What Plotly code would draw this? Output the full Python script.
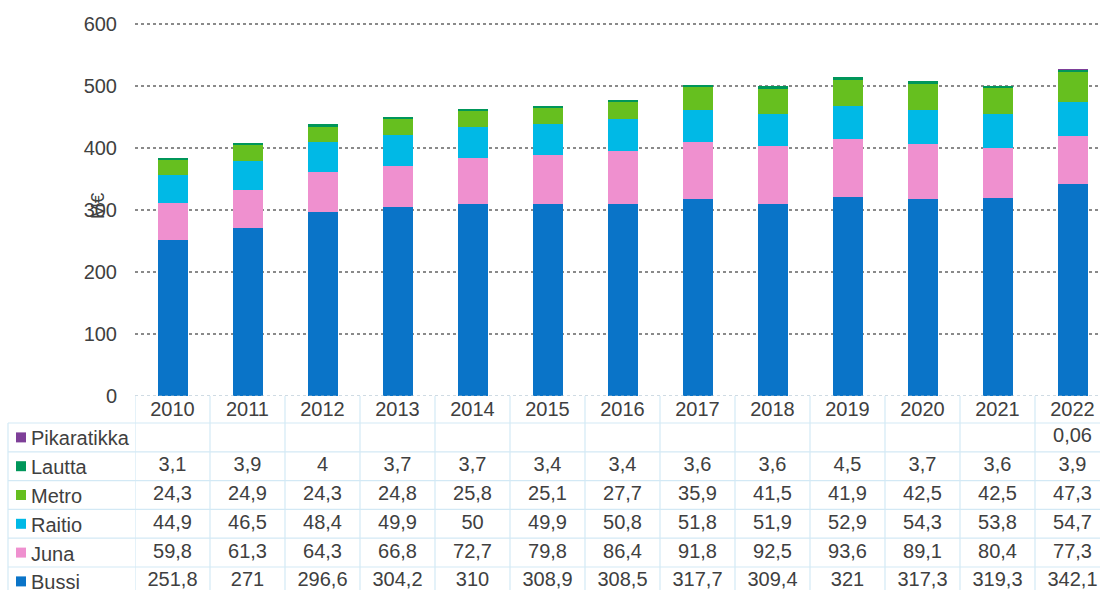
import plotly.graph_objects as go

years = ["2010", "2011", "2012", "2013", "2014", "2015", "2016", "2017", "2018", "2019", "2020", "2021", "2022"]
bussi = [251.8, 271, 296.6, 304.2, 310, 308.9, 308.5, 317.7, 309.4, 321, 317.3, 319.3, 342.1]
juna = [59.8, 61.3, 64.3, 66.8, 72.7, 79.8, 86.4, 91.8, 92.5, 93.6, 89.1, 80.4, 77.3]
raitio = [44.9, 46.5, 48.4, 49.9, 50, 49.9, 50.8, 51.8, 51.9, 52.9, 54.3, 53.8, 54.7]
metro = [24.3, 24.9, 24.3, 24.8, 25.8, 25.1, 27.7, 35.9, 41.5, 41.9, 42.5, 42.5, 47.3]
lautta = [3.1, 3.9, 4, 3.7, 3.7, 3.4, 3.4, 3.6, 3.6, 4.5, 3.7, 3.6, 3.9]
pikaratikka = [None] * 12 + [0.06]

series = [
    ("Bussi", bussi, "#0a74c8"),
    ("Juna", juna, "#ef90cf"),
    ("Raitio", raitio, "#00b9e6"),
    ("Metro", metro, "#66bf1f"),
    ("Lautta", lautta, "#00965a"),
    ("Pikaratikka", pikaratikka, "#7e3f98"),
]
table_order = ["Pikaratikka", "Lautta", "Metro", "Raitio", "Juna", "Bussi"]

FONT = "Liberation Sans, Arial, sans-serif"
TXT = "#404040"
GRIDC = "#d3e9f5"

W, H = 1100, 590
ML, MT = 135, 15
PW, PH = W - ML, H - MT
Y0PX = 396
Y600PX = 23.5
ppu = (Y0PX - Y600PX) / 600.0
ytop = (Y0PX - MT) / ppu
table_h = H - Y0PX
dom_split = table_h / PH
colw = 75.0
xmax = -0.5 + PW / colw

HEAD = 27.0
ROWH = 28.8

fig = go.Figure()
x_idx = list(range(len(years)))
for name, vals, col in series:
    fig.add_trace(go.Bar(
        x=x_idx, y=[v if v is not None else 0 for v in vals], name=name,
        marker=dict(color=col, line=dict(width=0)), width=0.4,
        xaxis="x", yaxis="y", showlegend=False, hoverinfo="skip"))

tx, ty, tt = [], [], []
for i, y in enumerate(years):
    tx.append(i); ty.append(HEAD / 2 + 1); tt.append(y)
lookup = {n: v for n, v, c in series}
for r, name in enumerate(table_order):
    yc = HEAD + ROWH * (r + 0.5)
    for i, v in enumerate(lookup[name]):
        if v is None:
            continue
        tx.append(i); ty.append(yc); tt.append(f"{v:g}".replace(".", ","))
fig.add_trace(go.Scatter(
    x=tx, y=ty, text=tt, mode="text", textposition="middle center",
    textfont=dict(family=FONT, size=20, color=TXT), xaxis="x", yaxis="y2",
    showlegend=False, hoverinfo="skip", cliponaxis=False))

shapes = []
def px2paper(px):
    return (px - ML) / PW

left_px = 8
for r in range(6):
    yl = HEAD + ROWH * r
    shapes.append(dict(type="line", xref="paper", yref="y2", x0=px2paper(left_px), x1=1.02,
                       y0=yl, y1=yl, line=dict(color=GRIDC, width=1.2)))
for b in range(len(years) + 1):
    xb = b - 0.5
    shapes.append(dict(type="line", xref="x", yref="y2", x0=xb, x1=xb, y0=0, y1=table_h + 20,
                       line=dict(color=GRIDC, width=1.2)))
shapes.append(dict(type="line", xref="paper", yref="y2", x0=px2paper(left_px), x1=px2paper(left_px),
                   y0=HEAD, y1=table_h + 20, line=dict(color=GRIDC, width=1.2)))
shapes.append(dict(type="line", xref="paper", yref="y", x0=0, x1=1, y0=0, y1=0,
                   line=dict(color="#9fb8c8", width=1.2, dash="dot")))

annotations = []
for r, name in enumerate(table_order):
    yc = HEAD + ROWH * (r + 0.5)
    col = [c for n, v, c in series if n == name][0]
    shapes.append(dict(type="rect", xref="paper", yref="y2", x0=px2paper(16), x1=px2paper(26),
                       y0=yc - 5, y1=yc + 5, fillcolor=col, line=dict(width=0)))
    annotations.append(dict(text=name, xref="paper", yref="y2", x=px2paper(29), y=yc + 1,
                            xanchor="left", yanchor="middle", showarrow=False,
                            font=dict(family=FONT, size=20, color=TXT)))
annotations.append(dict(text="M€", xref="paper", yref="y", x=px2paper(97), y=(396 - 206) / ppu,
                        textangle=-90, xanchor="center", yanchor="middle", showarrow=False,
                        font=dict(family=FONT, size=19, color=TXT)))

fig.update_layout(
    width=W, height=H, barmode="stack", bargap=0.6,
    margin=dict(l=ML, r=0, t=MT, b=0, pad=0, autoexpand=False),
    paper_bgcolor="white", plot_bgcolor="white",
    font=dict(family=FONT, color=TXT),
    xaxis=dict(range=[-0.5, xmax], showticklabels=False, showgrid=False, zeroline=False,
               showline=False, ticks="", anchor="y", fixedrange=True),
    yaxis=dict(domain=[dom_split, 1], range=[0, ytop], tickvals=[0, 100, 200, 300, 400, 500, 600],
               showgrid=True, gridcolor="#8a8a8a", griddash="dot", gridwidth=1.5,
               zeroline=False, showline=False, ticks="", ticklabelstandoff=17,
               tickfont=dict(family=FONT, size=20, color=TXT), anchor="x", fixedrange=True),
    yaxis2=dict(domain=[0, dom_split], range=[table_h, 0], showticklabels=False, showgrid=False,
                zeroline=False, showline=False, ticks="", anchor="x", fixedrange=True),
    shapes=shapes, annotations=annotations,
)

fig.write_html("out.html", config={"displayModeBar": False},
               post_script="document.body.style.margin='0';document.body.style.overflow='hidden';")
